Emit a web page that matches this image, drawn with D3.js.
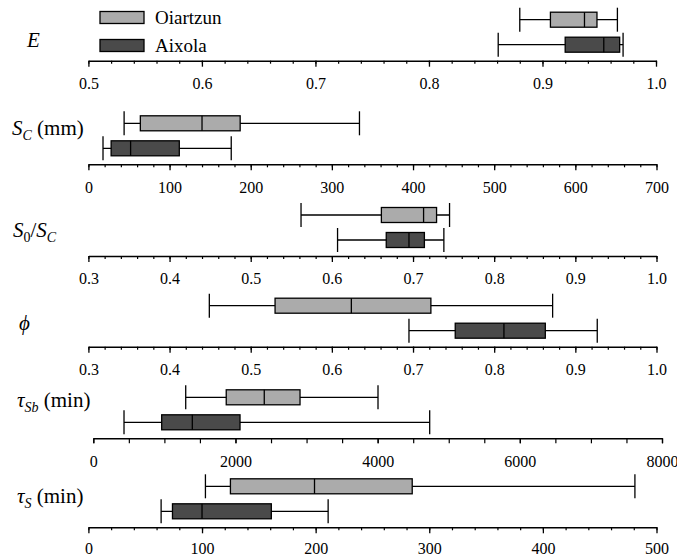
<!DOCTYPE html>
<meta charset="utf-8">
<script src="https://cdn.jsdelivr.net/npm/d3@7"></script>
<style>
  body { margin: 0; background: #fff; }
  svg, svg text { font-family: "Liberation Serif", "Times New Roman", Tinos, "DejaVu Serif", serif; }
</style>
<div id="vis"></div>
<script>
// box stats: [min, q1, median, q3, max]
const sites = ["Oiartzun", "Aixola"];
const variables = ["E", "Sc", "S0Sc", "phi", "tauSb", "tauS"];
const oiartzun = [
  [0.880, 0.907, 0.937, 0.948, 0.966],
  [44, 64, 140, 187, 334],
  [0.562, 0.661, 0.713, 0.729, 0.745],
  [0.449, 0.530, 0.624, 0.722, 0.872],
  [1300, 1870, 2405, 2908, 4005],
  [103, 125, 199, 285, 481]
];
const aixola = [
  [0.861, 0.920, 0.954, 0.968, 0.971],
  [18, 28, 52, 112, 176],
  [0.607, 0.667, 0.695, 0.714, 0.738],
  [0.695, 0.752, 0.812, 0.863, 0.927],
  [432, 962, 1393, 2064, 4732],
  [64, 74, 100, 161, 211]
];
const domains = [[0.5, 1.0], [0, 700], [0.3, 1.0], [0.3, 1.0], [0, 8000], [0, 500]];
const tickLabels = [
  [0.5, 0.6, 0.7, 0.8, 0.9, 1.0],
  [0, 100, 200, 300, 400, 500, 600, 700],
  [0.3, 0.4, 0.5, 0.6, 0.7, 0.8, 0.9, 1.0],
  [0.3, 0.4, 0.5, 0.6, 0.7, 0.8, 0.9, 1.0],
  [0, 2000, 4000, 6000, 8000],
  [0, 100, 200, 300, 400, 500]
];
const minorStep = [0.02, 20, 0.02, 0.02, 500, 20];

const width = 677, height = 557;
const colors = { Oiartzun: "#ababab", Aixola: "#4a4a4a" };
const serif = '"Liberation Serif", "Times New Roman", Tinos, "DejaVu Serif", serif';

// layout of each panel
const axisY = [60.7, 164.3, 256, 346.7, 438.3, 527.3];
const xRange = [[88.4, 656], [88.4, 656.5], [88.4, 656.5], [88.4, 656.5], [93.3, 662], [88.4, 656.5]];
const majorSize = [6, 6, 6, 6, 5, 6];
const labelPad = [17, 17, 17, 17, 17, 15.5];
const labelPos = [[27, 47], [12, 135], [13, 237], [19, 330], [17, 407], [17, 503]];

const svg = d3.select("#vis").append("svg")
  .attr("width", width)
  .attr("height", height)
  .attr("font-family", serif);

function yLabel(g, i) {
  const t = g.append("text")
    .attr("x", labelPos[i][0])
    .attr("y", labelPos[i][1])
    .attr("font-size", 21)
    .attr("font-family", serif)
    .attr("fill", "#000");
  const it = (s) => t.append("tspan").attr("font-style", "italic").text(s);
  const sub = (s, italic) => t.append("tspan")
    .attr("font-size", 14).attr("dy", 5)
    .attr("font-style", italic ? "italic" : "normal").text(s);
  const up = (s) => t.append("tspan").attr("dy", -5).text(s);
  if (i === 0) it("E");
  if (i === 1) { it("S"); sub("C", true); up("\u00a0(mm)"); }
  if (i === 2) { it("S"); sub("0", false); up("/"); it("S"); sub("C", true); }
  if (i === 3) it("\u03d5");
  if (i === 4) { it("\u03c4"); sub("Sb", true); up("\u00a0(min)"); }
  if (i === 5) { it("\u03c4"); sub("S", true); up("\u00a0(min)"); }
}

variables.forEach((v, i) => {
  const x = d3.scaleLinear().domain(domains[i]).range(xRange[i]);
  const y = d3.scalePoint().domain(sites).range([axisY[i] - 41, axisY[i] - 16]);
  const g = svg.append("g").attr("class", "panel-" + v);

  // minor ticks
  const [d0, d1] = domains[i];
  const minor = d3.range(0, Math.round((d1 - d0) / minorStep[i]) + 1).map(k => d0 + k * minorStep[i]);
  g.append("g")
    .attr("transform", `translate(0,${axisY[i]})`)
    .call(d3.axisBottom(x).tickValues(minor).tickSizeInner(i === 4 ? 5 : 3).tickSizeOuter(0).tickFormat(""))
    .call(a => a.selectAll("line").attr("stroke-width", 1.2))
    .call(a => a.select(".domain").remove());

  // major ticks and labels
  const fmt = i === 1 || i >= 4 ? d3.format("d") : d3.format(".1f");
  g.append("g")
    .attr("transform", `translate(0,${axisY[i]})`)
    .call(d3.axisBottom(x).tickValues(tickLabels[i]).tickSizeInner(majorSize[i]).tickSizeOuter(0)
      .tickPadding(labelPad[i] - majorSize[i]).tickFormat(fmt))
    .attr("font-family", serif)
    .attr("font-size", 16)
    .call(a => a.selectAll("line").attr("stroke-width", 1.3))
    .call(a => a.select(".domain").attr("stroke-width", 1.4))
    .call(a => a.selectAll("text").attr("fill", "#000"));

  // boxes
  const rows = [oiartzun[i], aixola[i]];
  sites.forEach((s, j) => {
    const [mn, q1, md, q3, mx] = rows[j];
    const cy = y(s);
    const b = g.append("g").attr("stroke", "#000").attr("stroke-width", 1.3);
    b.append("line").attr("x1", x(mn)).attr("x2", x(mx)).attr("y1", cy).attr("y2", cy);
    b.append("line").attr("x1", x(mn)).attr("x2", x(mn)).attr("y1", cy - 12).attr("y2", cy + 12);
    b.append("line").attr("x1", x(mx)).attr("x2", x(mx)).attr("y1", cy - 12).attr("y2", cy + 12);
    b.append("rect")
      .attr("x", x(q1)).attr("width", x(q3) - x(q1))
      .attr("y", cy - 7.5).attr("height", 15)
      .attr("fill", colors[s]);
    b.append("line").attr("x1", x(md)).attr("x2", x(md)).attr("y1", cy - 7.5).attr("y2", cy + 7.5);
  });

  yLabel(g, i);
});

// legend
const legend = svg.append("g");
sites.forEach((s, j) => {
  const ly = 17.5 + j * 28;
  legend.append("rect")
    .attr("x", 100).attr("y", ly - 6).attr("width", 44).attr("height", 12)
    .attr("fill", colors[s]).attr("stroke", "#000").attr("stroke-width", 1.3);
  legend.append("text")
    .attr("x", 155).attr("y", ly + 6.5)
    .attr("font-size", 19).attr("font-family", serif).attr("fill", "#000")
    .text(s);
});
</script>
